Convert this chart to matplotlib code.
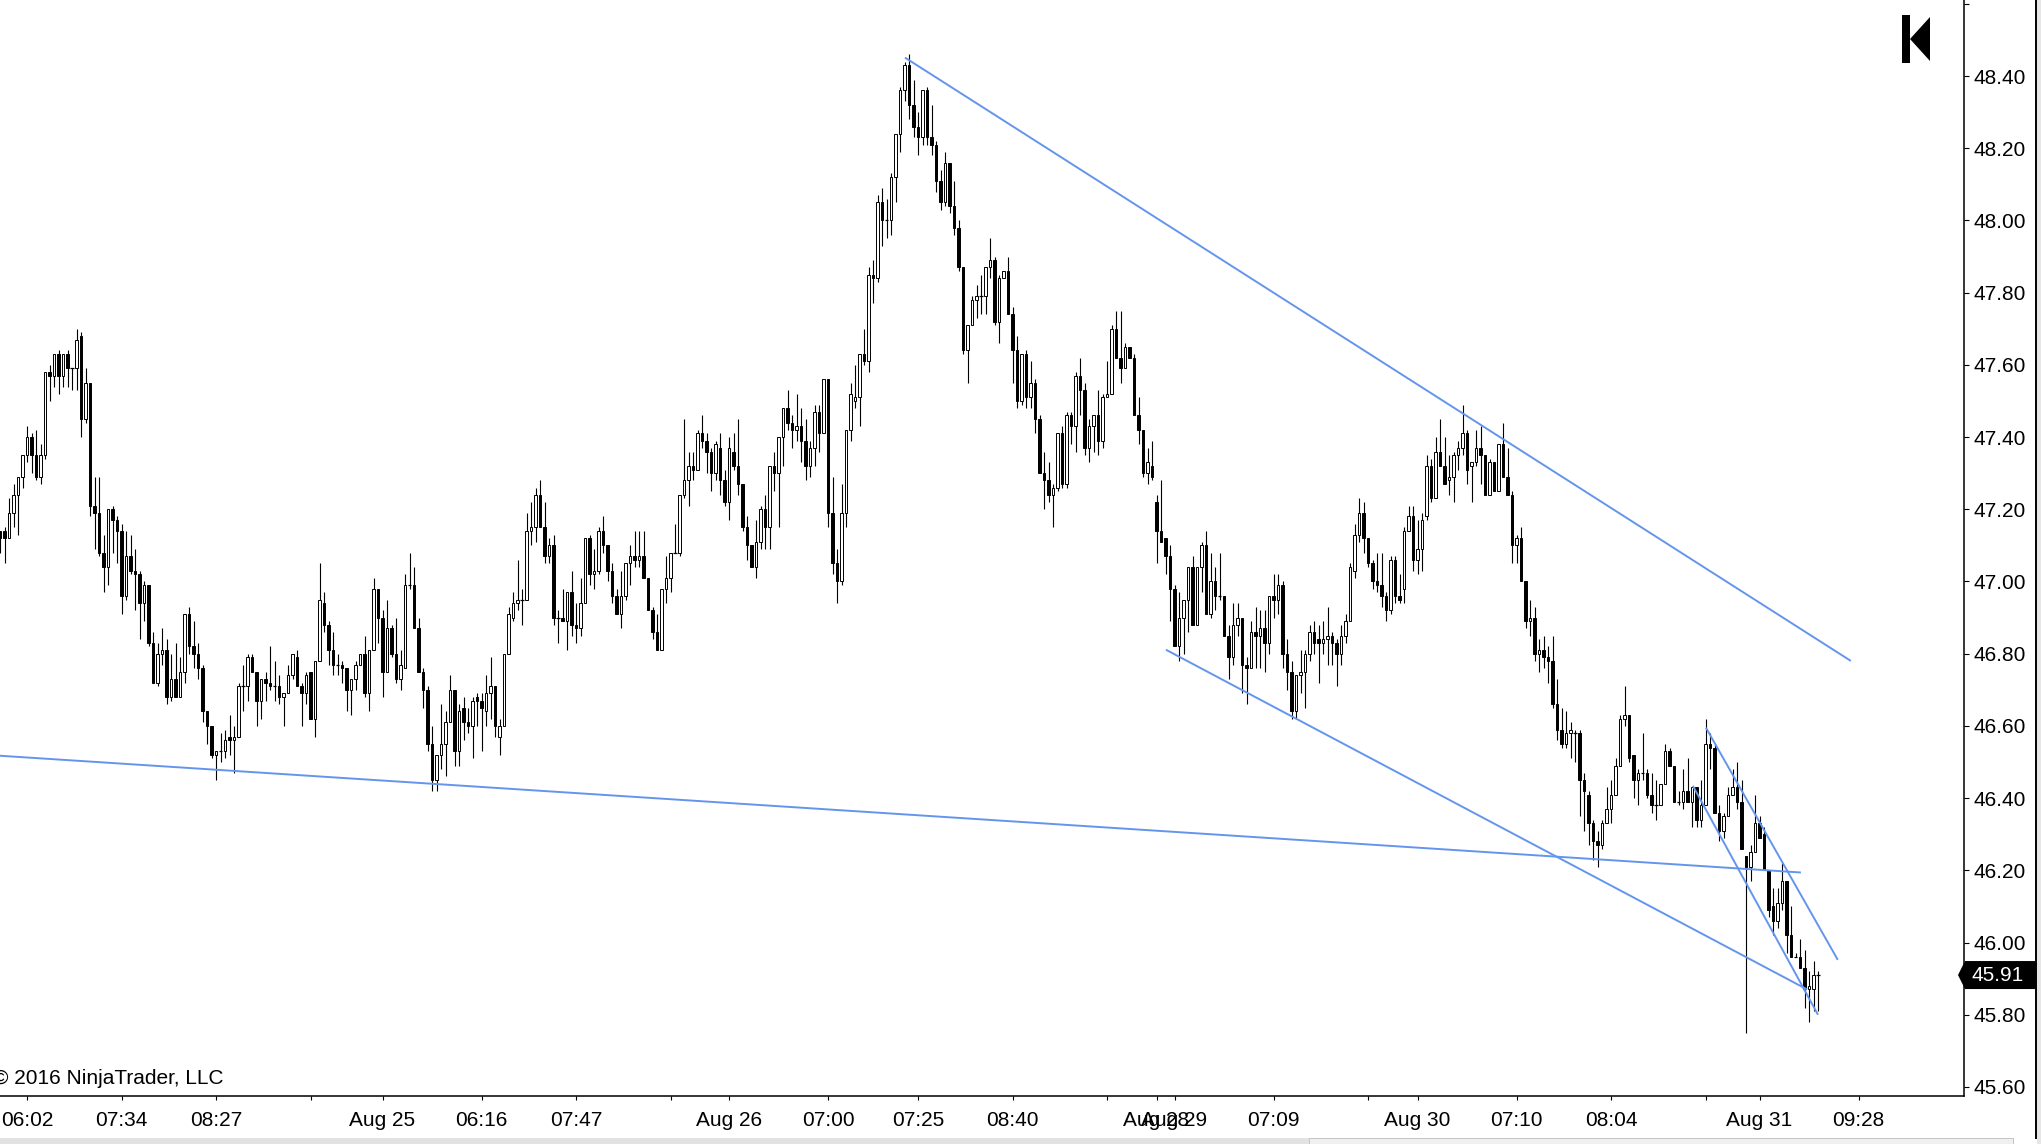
import numpy as np
import matplotlib
matplotlib.use('Agg')
import matplotlib.pyplot as plt
from matplotlib.patches import Rectangle, Polygon

plt.rcParams['font.family'] = ['Liberation Sans', 'DejaVu Sans']

# OHLC bars (bar index = position on the axis)
opens = np.array([
    47.14, 47.14, 47.12, 47.19, 47.24, 47.29, 47.35, 47.40, 47.35, 47.29,
    47.35, 47.58, 47.57, 47.63, 47.57, 47.63, 47.59, 47.59, 47.68, 47.45,
    47.55, 47.21, 47.19, 47.08, 47.04, 47.20, 47.17, 47.14, 46.96, 47.07,
    47.03, 47.02, 46.94, 46.99, 46.83, 46.72, 46.80, 46.81, 46.68, 46.73,
    46.68, 46.75, 46.91, 46.82, 46.80, 46.76, 46.64, 46.60, 46.52, 46.53,
    46.53, 46.57, 46.56, 46.57, 46.71, 46.71, 46.79, 46.75, 46.67, 46.73,
    46.72, 46.71, 46.71, 46.68, 46.69, 46.74, 46.79, 46.71, 46.69, 46.75,
    46.62, 46.78, 46.94, 46.88, 46.81, 46.77, 46.77, 46.76, 46.70, 46.73,
    46.77, 46.80, 46.69, 46.81, 46.98, 46.90, 46.75, 46.87, 46.80, 46.73,
    46.76, 46.99, 46.99, 46.87, 46.75, 46.70, 46.55, 46.45, 46.52, 46.55,
    46.61, 46.70, 46.53, 46.65, 46.61, 46.60, 46.68, 46.67, 46.64, 46.69,
    46.71, 46.57, 46.60, 46.80, 46.90, 46.94, 46.95, 46.95, 47.14, 47.15,
    47.24, 47.15, 47.07, 47.10, 46.90, 46.90, 46.89, 46.97, 46.88, 46.87,
    46.94, 47.12, 47.02, 47.03, 47.14, 47.10, 47.03, 46.96, 46.91, 46.96,
    47.05, 47.07, 47.06, 47.07, 47.01, 46.92, 46.86, 46.81, 46.98, 47.01,
    47.08, 47.08, 47.24, 47.28, 47.32, 47.31, 47.41, 47.39, 47.36, 47.30,
    47.37, 47.28, 47.22, 47.36, 47.32, 47.27, 47.15, 47.10, 47.04, 47.11,
    47.20, 47.15, 47.32, 47.30, 47.40, 47.48, 47.44, 47.42, 47.43, 47.39,
    47.32, 47.37, 47.47, 47.41, 47.56, 47.19, 47.05, 47.00, 47.19, 47.42,
    47.50, 47.51, 47.63, 47.61, 47.85, 47.84, 48.05, 48.00, 48.00, 48.12,
    48.24, 48.36, 48.43, 48.32, 48.26, 48.23, 48.36, 48.23, 48.21, 48.11,
    48.05, 48.16, 48.04, 47.98, 47.87, 47.64, 47.71, 47.78, 47.79, 47.79,
    47.87, 47.89, 47.72, 47.84, 47.86, 47.74, 47.64, 47.50, 47.63, 47.51,
    47.55, 47.45, 47.30, 47.28, 47.24, 47.26, 47.41, 47.27, 47.46, 47.43,
    47.57, 47.53, 47.37, 47.43, 47.46, 47.39, 47.51, 47.52, 47.70, 47.62,
    47.59, 47.65, 47.62, 47.46, 47.42, 47.30, 47.32, 47.22, 47.14, 47.12,
    47.07, 46.98, 46.82, 46.90, 46.95, 47.04, 46.88, 47.04, 47.10, 46.91,
    47.00, 46.96, 46.96, 46.85, 46.79, 46.88, 46.90, 46.77, 46.76, 46.86,
    46.85, 46.87, 46.83, 46.96, 46.95, 46.99, 46.80, 46.75, 46.64, 46.74,
    46.75, 46.80, 46.86, 46.84, 46.83, 46.84, 46.85, 46.83, 46.80, 46.85,
    46.89, 47.03, 47.13, 47.19, 47.12, 47.05, 47.00, 46.99, 46.96, 46.92,
    47.06, 46.96, 46.98, 47.14, 47.18, 47.06, 47.09, 47.18, 47.32, 47.23,
    47.36, 47.32, 47.28, 47.29, 47.35, 47.37, 47.41, 47.32, 47.33, 47.37,
    47.35, 47.24, 47.33, 47.25, 47.38, 47.29, 47.24, 47.10, 47.12, 47.00,
    46.89, 46.90, 46.80, 46.81, 46.79, 46.78, 46.66, 46.59, 46.55, 46.58,
    46.58, 46.58, 46.45, 46.41, 46.33, 46.28, 46.27, 46.33, 46.37, 46.41,
    46.49, 46.62, 46.63, 46.52, 46.45, 46.47, 46.47, 46.41, 46.38, 46.38,
    46.44, 46.53, 46.49, 46.39, 46.39, 46.42, 46.39, 46.43, 46.34, 46.38,
    46.55, 46.54, 46.36, 46.31, 46.35, 46.41, 46.43, 46.39, 46.24, 46.21,
    46.25, 46.33, 46.30, 46.20, 46.10, 46.06, 46.11, 46.17, 46.02, 45.96,
    45.96, 45.93, 45.87, 45.87, 45.91])

highs = np.array([
    47.14, 47.15, 47.23, 47.27, 47.29, 47.35, 47.43, 47.41, 47.42, 47.38,
    47.58, 47.60, 47.63, 47.64, 47.63, 47.64, 47.59, 47.70, 47.69, 47.59,
    47.55, 47.29, 47.29, 47.13, 47.20, 47.21, 47.18, 47.16, 47.14, 47.13,
    47.09, 47.03, 47.00, 46.99, 46.86, 46.83, 46.87, 46.84, 46.80, 46.83,
    46.79, 46.91, 46.93, 46.89, 46.83, 46.77, 46.64, 46.60, 46.53, 46.58,
    46.59, 46.63, 46.60, 46.72, 46.77, 46.80, 46.80, 46.75, 46.73, 46.75,
    46.82, 46.78, 46.74, 46.69, 46.77, 46.80, 46.81, 46.72, 46.75, 46.75,
    46.78, 47.05, 46.97, 46.89, 46.86, 46.80, 46.78, 46.76, 46.73, 46.78,
    46.80, 46.85, 46.81, 47.01, 46.98, 46.92, 46.95, 46.88, 46.90, 46.81,
    47.02, 47.08, 47.04, 46.90, 46.76, 46.71, 46.60, 46.52, 46.66, 46.64,
    46.74, 46.70, 46.66, 46.68, 46.65, 46.68, 46.69, 46.69, 46.74, 46.79,
    46.71, 46.62, 46.80, 46.93, 46.97, 47.06, 46.98, 47.19, 47.22, 47.26,
    47.28, 47.22, 47.12, 47.13, 46.92, 46.98, 46.97, 47.03, 46.94, 47.01,
    47.12, 47.13, 47.09, 47.15, 47.18, 47.10, 47.05, 46.98, 47.03, 47.05,
    47.10, 47.14, 47.14, 47.14, 47.01, 46.93, 46.91, 46.98, 47.07, 47.08,
    47.16, 47.24, 47.45, 47.36, 47.36, 47.42, 47.46, 47.41, 47.37, 47.39,
    47.41, 47.31, 47.40, 47.41, 47.45, 47.27, 47.18, 47.10, 47.17, 47.21,
    47.24, 47.32, 47.36, 47.40, 47.48, 47.53, 47.46, 47.52, 47.48, 47.45,
    47.39, 47.49, 47.49, 47.56, 47.56, 47.29, 47.09, 47.27, 47.42, 47.55,
    47.60, 47.63, 47.70, 47.87, 47.89, 48.07, 48.09, 48.06, 48.13, 48.24,
    48.37, 48.44, 48.46, 48.39, 48.30, 48.36, 48.37, 48.32, 48.22, 48.14,
    48.19, 48.16, 48.11, 48.00, 47.87, 47.71, 47.79, 47.82, 47.85, 47.87,
    47.95, 47.90, 47.85, 47.86, 47.90, 47.76, 47.68, 47.63, 47.64, 47.61,
    47.56, 47.46, 47.36, 47.33, 47.27, 47.41, 47.43, 47.47, 47.47, 47.58,
    47.62, 47.55, 47.45, 47.46, 47.53, 47.52, 47.61, 47.71, 47.75, 47.75,
    47.66, 47.65, 47.63, 47.51, 47.42, 47.37, 47.39, 47.24, 47.28, 47.12,
    47.10, 46.99, 46.97, 46.95, 47.04, 47.07, 47.04, 47.11, 47.14, 47.08,
    47.04, 47.08, 46.96, 46.88, 46.94, 46.94, 46.90, 46.79, 46.89, 46.93,
    46.92, 46.92, 46.96, 47.02, 47.02, 47.00, 46.84, 46.78, 46.74, 46.81,
    46.81, 46.88, 46.89, 46.88, 46.89, 46.93, 46.86, 46.84, 46.88, 46.91,
    47.05, 47.16, 47.23, 47.22, 47.12, 47.06, 47.08, 47.08, 46.97, 47.07,
    47.07, 47.02, 47.15, 47.21, 47.21, 47.17, 47.19, 47.35, 47.34, 47.40,
    47.45, 47.40, 47.35, 47.36, 47.39, 47.49, 47.42, 47.33, 47.42, 47.43,
    47.35, 47.34, 47.33, 47.38, 47.44, 47.37, 47.25, 47.13, 47.15, 47.00,
    46.95, 46.93, 46.84, 46.85, 46.82, 46.85, 46.73, 46.65, 46.64, 46.61,
    46.59, 46.59, 46.47, 46.42, 46.34, 46.31, 46.34, 46.43, 46.45, 46.51,
    46.63, 46.71, 46.63, 46.52, 46.48, 46.58, 46.48, 46.47, 46.45, 46.44,
    46.55, 46.54, 46.49, 46.42, 46.48, 46.51, 46.43, 46.43, 46.45, 46.62,
    46.58, 46.55, 46.38, 46.36, 46.43, 46.48, 46.50, 46.45, 46.24, 46.27,
    46.41, 46.35, 46.32, 46.20, 46.15, 46.15, 46.22, 46.17, 46.10, 45.97,
    46.01, 45.98, 45.92, 45.95, 45.92])

lows = np.array([
    47.08, 47.05, 47.12, 47.15, 47.13, 47.26, 47.33, 47.30, 47.28, 47.27,
    47.34, 47.50, 47.54, 47.52, 47.54, 47.54, 47.53, 47.53, 47.40, 47.44,
    47.18, 47.09, 47.07, 46.97, 46.99, 47.08, 47.05, 46.91, 46.95, 47.02,
    46.92, 46.84, 46.89, 46.82, 46.72, 46.71, 46.77, 46.66, 46.67, 46.68,
    46.68, 46.72, 46.80, 46.76, 46.73, 46.61, 46.55, 46.51, 46.45, 46.50,
    46.51, 46.52, 46.47, 46.57, 46.64, 46.67, 46.75, 46.60, 46.62, 46.67,
    46.70, 46.67, 46.66, 46.60, 46.69, 46.73, 46.71, 46.60, 46.66, 46.62,
    46.57, 46.78, 46.86, 46.77, 46.74, 46.74, 46.72, 46.64, 46.63, 46.70,
    46.77, 46.68, 46.64, 46.81, 46.83, 46.68, 46.75, 46.79, 46.72, 46.70,
    46.76, 46.98, 46.87, 46.75, 46.65, 46.53, 46.42, 46.42, 46.48, 46.46,
    46.61, 46.49, 46.49, 46.56, 46.58, 46.51, 46.60, 46.53, 46.60, 46.62,
    46.57, 46.52, 46.60, 46.80, 46.89, 46.92, 46.88, 46.95, 47.10, 47.11,
    47.15, 47.05, 47.05, 46.88, 46.83, 46.89, 46.81, 46.85, 46.83, 46.85,
    46.94, 46.99, 46.98, 47.02, 47.08, 47.00, 46.94, 46.91, 46.87, 46.95,
    46.99, 47.04, 47.04, 47.01, 46.92, 46.84, 46.81, 46.81, 46.94, 46.97,
    47.08, 47.07, 47.23, 47.21, 47.28, 47.31, 47.37, 47.30, 47.25, 47.28,
    47.24, 47.21, 47.17, 47.31, 47.24, 47.14, 47.06, 47.04, 47.01, 47.09,
    47.09, 47.09, 47.25, 47.15, 47.32, 47.42, 47.37, 47.39, 47.33, 47.28,
    47.29, 47.32, 47.36, 47.41, 47.15, 47.02, 46.94, 46.99, 47.15, 47.39,
    47.48, 47.43, 47.60, 47.58, 47.77, 47.83, 47.93, 47.95, 47.96, 48.05,
    48.19, 48.33, 48.28, 48.23, 48.18, 48.21, 48.21, 48.18, 48.08, 48.03,
    48.04, 48.02, 47.96, 47.86, 47.63, 47.55, 47.71, 47.73, 47.74, 47.74,
    47.84, 47.71, 47.66, 47.84, 47.74, 47.55, 47.48, 47.49, 47.48, 47.48,
    47.41, 47.30, 47.20, 47.22, 47.15, 47.25, 47.26, 47.26, 47.38, 47.36,
    47.46, 47.35, 47.33, 47.36, 47.35, 47.37, 47.51, 47.52, 47.62, 47.55,
    47.59, 47.62, 47.46, 47.38, 47.29, 47.27, 47.28, 47.05, 47.11, 47.02,
    46.89, 46.82, 46.78, 46.80, 46.86, 46.88, 46.88, 46.97, 46.91, 46.90,
    46.92, 46.95, 46.85, 46.73, 46.77, 46.85, 46.69, 46.66, 46.76, 46.76,
    46.76, 46.75, 46.80, 46.90, 46.91, 46.76, 46.70, 46.62, 46.62, 46.69,
    46.65, 46.78, 46.80, 46.72, 46.80, 46.77, 46.77, 46.71, 46.77, 46.83,
    46.89, 47.01, 47.11, 47.08, 47.04, 46.98, 46.97, 46.93, 46.89, 46.91,
    46.94, 46.94, 46.94, 47.14, 47.03, 47.02, 47.03, 47.17, 47.22, 47.23,
    47.32, 47.27, 47.24, 47.22, 47.31, 47.35, 47.27, 47.22, 47.32, 47.27,
    47.24, 47.24, 47.25, 47.25, 47.29, 47.24, 47.05, 47.05, 47.00, 46.87,
    46.85, 46.78, 46.75, 46.76, 46.72, 46.65, 46.56, 46.54, 46.54, 46.51,
    46.50, 46.35, 46.31, 46.27, 46.23, 46.21, 46.26, 46.33, 46.33, 46.41,
    46.49, 46.60, 46.50, 46.40, 46.38, 46.45, 46.40, 46.36, 46.34, 46.38,
    46.44, 46.49, 46.39, 46.38, 46.37, 46.39, 46.32, 46.32, 46.32, 46.38,
    46.48, 46.36, 46.28, 46.29, 46.35, 46.41, 46.37, 46.26, 45.75, 46.17,
    46.25, 46.29, 46.20, 46.07, 46.02, 46.04, 46.09, 45.97, 45.96, 45.96,
    45.93, 45.82, 45.78, 45.81, 45.81])

closes = np.array([
    47.12, 47.12, 47.19, 47.24, 47.29, 47.35, 47.40, 47.35, 47.29, 47.35,
    47.58, 47.57, 47.63, 47.57, 47.63, 47.59, 47.59, 47.67, 47.45, 47.55,
    47.21, 47.19, 47.08, 47.04, 47.20, 47.17, 47.14, 46.96, 47.07, 47.03,
    47.02, 46.94, 46.99, 46.83, 46.72, 46.80, 46.81, 46.68, 46.73, 46.68,
    46.75, 46.91, 46.82, 46.80, 46.76, 46.64, 46.60, 46.52, 46.53, 46.53,
    46.56, 46.56, 46.57, 46.71, 46.71, 46.79, 46.75, 46.67, 46.73, 46.72,
    46.71, 46.71, 46.68, 46.69, 46.74, 46.80, 46.71, 46.69, 46.74, 46.62,
    46.78, 46.95, 46.88, 46.81, 46.77, 46.77, 46.76, 46.70, 46.73, 46.77,
    46.80, 46.69, 46.81, 46.98, 46.90, 46.75, 46.87, 46.80, 46.73, 46.77,
    46.99, 46.99, 46.87, 46.75, 46.70, 46.55, 46.45, 46.52, 46.55, 46.61,
    46.70, 46.53, 46.64, 46.61, 46.60, 46.67, 46.67, 46.65, 46.69, 46.71,
    46.60, 46.60, 46.80, 46.91, 46.94, 46.95, 46.95, 47.14, 47.15, 47.24,
    47.15, 47.07, 47.10, 46.90, 46.90, 46.89, 46.97, 46.88, 46.87, 46.94,
    47.12, 47.02, 47.03, 47.14, 47.10, 47.03, 46.96, 46.91, 46.96, 47.05,
    47.07, 47.06, 47.07, 47.01, 46.92, 46.86, 46.81, 46.98, 47.01, 47.08,
    47.08, 47.24, 47.28, 47.32, 47.31, 47.41, 47.39, 47.36, 47.30, 47.38,
    47.28, 47.22, 47.37, 47.32, 47.27, 47.15, 47.10, 47.04, 47.11, 47.20,
    47.15, 47.32, 47.30, 47.40, 47.48, 47.44, 47.42, 47.43, 47.39, 47.32,
    47.37, 47.47, 47.41, 47.56, 47.19, 47.05, 47.00, 47.19, 47.42, 47.52,
    47.51, 47.63, 47.61, 47.85, 47.84, 48.05, 48.00, 48.00, 48.12, 48.24,
    48.36, 48.43, 48.32, 48.26, 48.23, 48.36, 48.23, 48.21, 48.11, 48.05,
    48.16, 48.04, 47.98, 47.87, 47.64, 47.71, 47.78, 47.79, 47.79, 47.87,
    47.89, 47.72, 47.84, 47.86, 47.74, 47.64, 47.50, 47.63, 47.51, 47.55,
    47.45, 47.30, 47.28, 47.24, 47.26, 47.41, 47.27, 47.46, 47.43, 47.57,
    47.53, 47.37, 47.43, 47.46, 47.39, 47.51, 47.52, 47.70, 47.62, 47.59,
    47.65, 47.62, 47.46, 47.42, 47.30, 47.33, 47.29, 47.14, 47.11, 47.07,
    46.98, 46.82, 46.90, 46.95, 47.04, 46.88, 47.04, 47.10, 46.91, 47.00,
    46.96, 46.96, 46.85, 46.79, 46.88, 46.90, 46.77, 46.76, 46.86, 46.85,
    46.87, 46.83, 46.96, 46.95, 46.99, 46.80, 46.75, 46.64, 46.74, 46.75,
    46.80, 46.86, 46.83, 46.83, 46.84, 46.85, 46.83, 46.80, 46.85, 46.89,
    47.04, 47.13, 47.19, 47.12, 47.05, 47.00, 46.99, 46.96, 46.92, 47.06,
    46.96, 46.95, 47.14, 47.18, 47.06, 47.09, 47.17, 47.32, 47.23, 47.36,
    47.32, 47.27, 47.29, 47.35, 47.37, 47.41, 47.31, 47.33, 47.37, 47.35,
    47.24, 47.33, 47.25, 47.38, 47.29, 47.24, 47.10, 47.12, 47.00, 46.89,
    46.90, 46.80, 46.81, 46.79, 46.78, 46.66, 46.59, 46.55, 46.58, 46.59,
    46.58, 46.45, 46.42, 46.33, 46.28, 46.27, 46.33, 46.37, 46.41, 46.49,
    46.62, 46.63, 46.51, 46.45, 46.47, 46.47, 46.41, 46.38, 46.38, 46.44,
    46.53, 46.49, 46.39, 46.39, 46.42, 46.39, 46.43, 46.34, 46.38, 46.55,
    46.54, 46.36, 46.31, 46.35, 46.41, 46.43, 46.39, 46.26, 46.21, 46.25,
    46.33, 46.29, 46.20, 46.09, 46.06, 46.11, 46.17, 46.02, 45.96, 45.96,
    45.93, 45.87, 45.88, 45.91, 45.91])

# x axis labels (bar index of each tick)
tick_pos = [6, 27, 48, 69, 85, 107, 128, 149, 162, 184, 204, 225,
            246, 257, 261, 283, 304, 315, 337, 358, 379, 391, 413]
tick_lab = ['06:02', '07:34', '08:27', '', 'Aug 25', '06:16', '07:47', '',
            'Aug 26', '07:00', '07:25', '08:40', '', 'Aug 28', 'Aug 29',
            '07:09', '', 'Aug 30', '07:10', '08:04', '', 'Aug 31', '09:28']

# drawn trend lines: (bar, price) start and end
line_x0 = [201.1, -2.0, 259.1, 379.1, 376.2]
line_y0 = [48.451, 46.519, 46.811, 46.595, 46.434]
line_x1 = [411.3, 400.2, 401.6, 408.4, 404.0]
line_y1 = [46.78, 46.194, 45.87, 45.952, 45.80]

W, H = 2041, 1144
fig = plt.figure(figsize=(W / 100, H / 100), dpi=100)
ax = fig.add_axes([0, 48 / H, 1964 / W, 1096 / H])

idx = np.arange(len(closes))
up = closes > opens
down = closes < opens
doji = closes == opens
bottoms = np.minimum(opens, closes)
heights = np.abs(closes - opens)

ax.vlines(idx, lows, highs, color='black', lw=0.8, zorder=2)
ax.bar(idx[up], heights[up], bottom=bottoms[up], width=0.62,
       facecolor='white', edgecolor='black', lw=0.7, zorder=3)
ax.bar(idx[down], heights[down], bottom=bottoms[down], width=0.62,
       facecolor='black', edgecolor='black', lw=0.7, zorder=3)
ax.hlines(closes[doji], idx[doji] - 0.38, idx[doji] + 0.38,
          color='black', lw=0.9, zorder=3)

for x0, y0, x1, y1 in zip(line_x0, line_y0, line_x1, line_y1):
    ax.plot([x0, x1], [y0, y1], color='#6495ED', lw=1.4, zorder=4,
            solid_capstyle='butt')

ax.set_xlim(0, 1964 / 4.5)
ax.set_ylim(45.575, 48.6105)

ax.spines['top'].set_visible(False)
ax.spines['left'].set_visible(False)
ax.spines['right'].set_linewidth(1.1)
ax.spines['bottom'].set_linewidth(1.1)

ax.yaxis.tick_right()
ax.set_yticks(np.round(np.arange(45.6, 48.41, 0.2), 2))
ax.set_yticks([48.6], minor=True)
ax.yaxis.set_major_formatter(matplotlib.ticker.FormatStrFormatter('%.2f'))
ax.tick_params(axis='y', which='both', direction='out', length=3.6,
               width=0.8, labelsize=15, pad=3)

ax.set_xticks(tick_pos)
ax.set_xticklabels(tick_lab)
ax.tick_params(axis='x', direction='out', length=3, width=0.8,
               labelsize=15, pad=8)

# last price marker on the price scale
last = closes[-1]
yc = ax.transData.transform((0, last))[1] / H
bh = 14 / H
fig.add_artist(Polygon([(1958 / W, yc), (1965 / W, yc + bh), (2036 / W, yc + bh),
                        (2036 / W, yc - bh), (1965 / W, yc - bh)],
                       closed=True, facecolor='black', edgecolor='none',
                       transform=fig.transFigure))
fig.text(1972 / W, yc, '%.2f' % last, color='white', fontsize=15,
         ha='left', va='center')

# logo in the top right corner
fig.add_artist(Rectangle((1902 / W, 1 - 63 / H), 8 / W, 48 / H,
                         facecolor='black', transform=fig.transFigure))
fig.add_artist(Polygon([(1910 / W, 1 - 39 / H), (1930 / W, 1 - 17 / H),
                        (1930 / W, 1 - 61 / H)], closed=True,
                       facecolor='black', transform=fig.transFigure))

fig.text(-7 / W, 1 - 1078 / H, '\u00a9 2016 NinjaTrader, LLC', fontsize=15,
         ha='left', va='center')

# window frame bits
fig.add_artist(Rectangle((0, 0), 1309 / W, 6 / H, facecolor='#e2e2e2',
                         edgecolor='none', transform=fig.transFigure))
fig.add_artist(Rectangle((1309 / W, 0), 704 / W, 6 / H, facecolor='#f0f0f0',
                         edgecolor='#c4c4c4', lw=0.7, transform=fig.transFigure))
fig.add_artist(Rectangle((2037 / W, 0), 4 / W, 1, facecolor='#e6e6e6',
                         edgecolor='none', transform=fig.transFigure))
fig.add_artist(plt.Line2D([2036 / W, 2036 / W], [6 / H, 1], color='black',
                          lw=1.4, transform=fig.transFigure))

fig.savefig('out.png', dpi=100)
